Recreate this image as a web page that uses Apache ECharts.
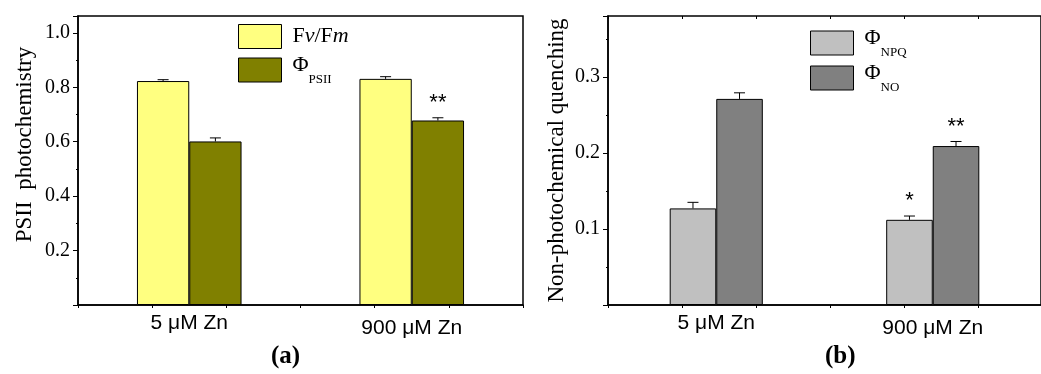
<!DOCTYPE html>
<html>
<head>
<meta charset="utf-8">
<script src="https://cdn.jsdelivr.net/npm/echarts@6/dist/echarts.min.js"></script>
<style>
  html, body { margin: 0; padding: 0; background: #fff; }
  #chart { width: 1041px; height: 374px; }
</style>
</head>
<body>
<div id="chart"></div>
<script>
// categories
var groups = ['5 μM Zn', '900 μM Zn']

// panel (a)
var fvfm = [0.823, 0.831]
var fvfmErr = [0.005, 0.008]
var phiPSII = [0.601, 0.678]
var phiPSIIErr = [0.013, 0.010]
var starsFvfm = ['', '']
var starsPSII = ['', '**']

// panel (b)
var phiNPQ = [0.127, 0.112]
var phiNPQErr = [0.008, 0.005]
var phiNO = [0.271, 0.209]
var phiNOErr = [0.008, 0.006]
var starsNPQ = ['', '*']
var starsNO = ['', '**']

var serif = 'Liberation Serif'
var sans = 'Liberation Sans'

var chart = echarts.init(document.getElementById('chart'), null, { renderer: 'canvas' })

function errData(vals, errs, stars) {
  return vals.map(function (v, i) {
    return [i, v, errs[i], stars[i]]
  })
}

// upward error bar (+ significance stars) on top of a grouped bar
function errRender(side, gapRatio) {
  return function (params, api) {
    var band = api.size([1, 0])[0]
    var barW = band * (1 - gapRatio) / 2
    var base = api.coord([api.value(0), api.value(1)])
    var top = api.coord([api.value(0), api.value(1) + api.value(2)])
    var x = base[0] + side * barW / 2
    var children = [
      { type: 'line', shape: { x1: x, y1: base[1], x2: x, y2: top[1] }, style: { stroke: '#000', lineWidth: 1 } },
      { type: 'line', shape: { x1: x - 5.5, y1: top[1], x2: x + 5.5, y2: top[1] }, style: { stroke: '#000', lineWidth: 1 } }
    ]
    var star = api.value(3)
    if (star) {
      children.push({
        type: 'text',
        style: {
          text: star, x: x, y: top[1] - 4, align: 'center', verticalAlign: 'bottom',
          font: '22px ' + sans, fill: '#000'
        }
      })
    }
    return { type: 'group', children: children }
  }
}

function catAxis(gi) {
  return {
    type: 'category', gridIndex: gi,
    data: [
      { value: groups[0], textStyle: { padding: [1, 0, 0, 0] } },
      { value: groups[1], textStyle: { padding: [6, 0, 0, 0] } }
    ],
    axisLine: { lineStyle: { color: '#000', width: 1.5 } },
    axisTick: { show: false },
    axisLabel: { color: '#000', fontFamily: sans, fontSize: 21, margin: 7 }
  }
}

function tickAxis(gi, pos, max, inside) {
  return {
    type: 'value', gridIndex: gi, position: pos, min: 0, max: max, interval: 1,
    axisLine: { show: false }, splitLine: { show: false }, axisLabel: { show: false },
    axisTick: { show: true, inside: inside, length: 3, lineStyle: { color: '#000' } }
  }
}

var legendRich = {
  r: { fontFamily: serif, fontSize: 22, color: '#000', padding: [0, 0, 0, 6] },
  r2: { fontFamily: serif, fontSize: 22, color: '#000' },
  i: { fontFamily: serif, fontSize: 22, fontStyle: 'italic', color: '#000' },
  phi: { fontFamily: serif, fontSize: 22, color: '#000', padding: [0, 0, 10, 6] },
  sub: { fontFamily: serif, fontSize: 13, color: '#000', verticalAlign: 'bottom' }
}

var option = {
  animation: false,
  backgroundColor: '#fff',
  grid: [
    { left: 78, top: 16, right: 518, bottom: 69, show: true, borderColor: '#000', borderWidth: 1.5 },
    { left: 608, top: 16, right: -4, bottom: 69, show: true, borderColor: '#000', borderWidth: 1.5 }
  ],
  legend: [
    {
      data: ['Fv/Fm', 'PSII'], orient: 'vertical', left: 238, top: 24, padding: 0,
      itemWidth: 43, itemHeight: 24, itemGap: 5, icon: 'rect',
      itemStyle: { borderColor: '#000', borderWidth: 1 },
      formatter: function (n) {
        return n === 'Fv/Fm' ? '{r|F}{i|v}{r2|/F}{i|m}' : '{phi|Φ}{sub|PSII}'
      },
      textStyle: { rich: legendRich }
    },
    {
      data: ['NPQ', 'NO'], orient: 'vertical', left: 810, top: 27, padding: 0,
      itemWidth: 43, itemHeight: 24, itemGap: 3, icon: 'rect',
      itemStyle: { borderColor: '#000', borderWidth: 1 },
      formatter: function (n) {
        return '{phi|Φ}{sub|' + n + '}'
      },
      textStyle: { rich: legendRich }
    }
  ],
  xAxis: [
    catAxis(0), tickAxis(0, 'top', 6, true), tickAxis(0, 'bottom', 6, false),
    catAxis(1), tickAxis(1, 'top', 5.85, true), tickAxis(1, 'bottom', 5.85, false)
  ],
  yAxis: [
    {
      type: 'value', gridIndex: 0, min: 0, max: 1.062, interval: 0.2,
      name: 'PSII  photochemistry', nameLocation: 'middle', nameGap: 42,
      nameTextStyle: { fontFamily: serif, fontSize: 23, color: '#000', padding: [0, 0, 0, 32] },
      axisLine: { show: true, lineStyle: { color: '#000', width: 1.5 } },
      axisTick: { show: true, length: 5, lineStyle: { color: '#000' } },
      minorTick: { show: true, splitNumber: 2, length: 2, lineStyle: { color: '#000' } },
      splitLine: { show: false },
      axisLabel: {
        color: '#000', fontFamily: serif, fontSize: 20, margin: 8,
        formatter: function (v) { return v === 0 || v > 1.01 ? '' : v.toFixed(1) }
      }
    },
    {
      type: 'value', gridIndex: 0, position: 'right', min: 0, max: 1.062, interval: 0.1,
      axisLine: { show: false }, splitLine: { show: false }, axisLabel: { show: false },
      axisTick: { show: true, inside: true, length: 2, lineStyle: { color: '#000' } }
    },
    {
      type: 'value', gridIndex: 1, min: 0, max: 0.38, interval: 0.1,
      name: 'Non-photochemical quenching', nameLocation: 'middle', nameGap: 40,
      nameTextStyle: { fontFamily: serif, fontSize: 23, color: '#000' },
      axisLine: { show: true, lineStyle: { color: '#000', width: 1.5 } },
      axisTick: { show: true, length: 5, lineStyle: { color: '#000' } },
      minorTick: { show: true, splitNumber: 2, length: 2, lineStyle: { color: '#000' } },
      splitLine: { show: false },
      axisLabel: {
        color: '#000', fontFamily: serif, fontSize: 20, margin: 8,
        formatter: function (v) { return v === 0 || v > 0.35 ? '' : v.toFixed(1) }
      }
    }
  ],
  series: [
    {
      name: 'Fv/Fm', type: 'bar', xAxisIndex: 0, yAxisIndex: 0, data: fvfm,
      barGap: 0, barCategoryGap: '53%',
      itemStyle: { color: '#ffff80', borderColor: '#000', borderWidth: 1 }
    },
    {
      name: 'PSII', type: 'bar', xAxisIndex: 0, yAxisIndex: 0, data: phiPSII,
      barGap: 0, barCategoryGap: '53%',
      itemStyle: { color: '#808000', borderColor: '#000', borderWidth: 1 }
    },
    {
      type: 'custom', xAxisIndex: 0, yAxisIndex: 0, z: 5,
      data: errData(fvfm, fvfmErr, starsFvfm), renderItem: errRender(-1, 0.53)
    },
    {
      type: 'custom', xAxisIndex: 0, yAxisIndex: 0, z: 5,
      data: errData(phiPSII, phiPSIIErr, starsPSII), renderItem: errRender(1, 0.53)
    },
    {
      name: 'NPQ', type: 'bar', xAxisIndex: 3, yAxisIndex: 2, data: phiNPQ,
      barGap: 0, barCategoryGap: '57%',
      itemStyle: { color: '#c0c0c0', borderColor: '#000', borderWidth: 1 }
    },
    {
      name: 'NO', type: 'bar', xAxisIndex: 3, yAxisIndex: 2, data: phiNO,
      barGap: 0, barCategoryGap: '57%',
      itemStyle: { color: '#808080', borderColor: '#000', borderWidth: 1 }
    },
    {
      type: 'custom', xAxisIndex: 3, yAxisIndex: 2, z: 5,
      data: errData(phiNPQ, phiNPQErr, starsNPQ), renderItem: errRender(-1, 0.57)
    },
    {
      type: 'custom', xAxisIndex: 3, yAxisIndex: 2, z: 5,
      data: errData(phiNO, phiNOErr, starsNO), renderItem: errRender(1, 0.57)
    }
  ],
  graphic: [
    { type: 'text', left: 271, top: 344, style: { text: '(a)', font: 'bold 25px ' + serif, fill: '#000' } },
    { type: 'text', left: 825, top: 344, style: { text: '(b)', font: 'bold 25px ' + serif, fill: '#000' } }
  ]
}

chart.setOption(option)
</script>
</body>
</html>
